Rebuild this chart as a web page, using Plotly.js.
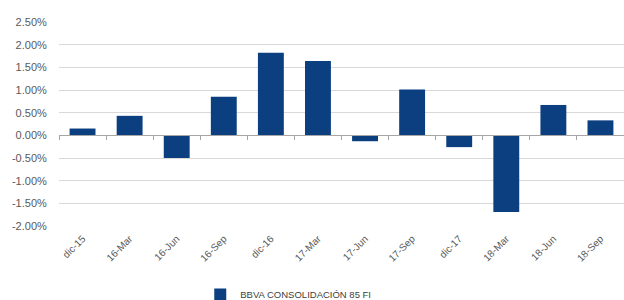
<!DOCTYPE html>
<html>
<head>
<meta charset="utf-8">
<script src="https://cdn.plot.ly/plotly-3.0.1.min.js"></script>
<style>html,body{margin:0;padding:0;background:#fff;}#chart{width:624px;height:300px;}</style>
</head>
<body>
<div id="chart"></div>
<script>
const categories = ["dic-15","16-Mar","16-Jun","16-Sep","dic-16","17-Mar","17-Jun","17-Sep","dic-17","18-Mar","18-Jun","18-Sep"];
const seriesName = "BBVA CONSOLIDACIÓN 85 FI";
const returns = [0.0015, 0.0043, -0.0050, 0.0085, 0.0182, 0.0164, -0.0013, 0.0101, -0.0026, -0.0169, 0.0067, 0.0033];
const yTickVals = [-0.02,-0.015,-0.01,-0.005,0,0.005,0.01,0.015,0.02,0.025];
const yTickText = ["-2.00%","-1.50%","-1.00%","-0.50%","0.00%","0.50%","1.00%","1.50%","2.00%","2.50%"];

const textColor = "#595959";
const font = {family: "Liberation Sans, Arial, sans-serif", size: 10, color: textColor};

const traces = [
  {
    type: "bar", x: categories, y: returns, name: seriesName,
    marker: {color: "#0B3F80"}, showlegend: true, hoverinfo: "x+y"
  },
  {
    type: "scatter", mode: "lines", x: categories, y: returns, xaxis: "x2",
    line: {width: 0, color: "rgba(0,0,0,0)"}, opacity: 0, showlegend: false, hoverinfo: "skip"
  }
];

const layout = {
  width: 624, height: 300,
  margin: {l: 59, r: 0, t: 22, b: 74, pad: 0, autoexpand: false},
  paper_bgcolor: "#ffffff", plot_bgcolor: "#ffffff",
  font: font,
  bargap: 0.45,
  showlegend: true,
  legend: {
    orientation: "h", x: 0.25, xanchor: "left", y: -0.336, yanchor: "middle",
    font: {family: font.family, size: 9.5, color: "#404040"}, itemwidth: 30
  },
  xaxis: {
    type: "category", categoryarray: categories, categoryorder: "array",
    showline: false, showgrid: false, zeroline: false, automargin: false,
    ticks: "outside", ticklen: 2, tickcolor: "rgba(0,0,0,0)",
    tickangle: -45, tickfont: {family: font.family, size: 10, color: textColor},
    range: [-0.5, 11.5], fixedrange: true
  },
  xaxis2: {
    type: "category", categoryarray: categories, categoryorder: "array",
    overlaying: "x", anchor: "free", position: 0.02/0.045, side: "bottom",
    showline: true, linecolor: "#A6A6A6", linewidth: 1,
    ticks: "outside", tickson: "boundaries", ticklen: 4, tickcolor: "#A6A6A6",
    showticklabels: false, showgrid: false, zeroline: false,
    range: [-0.5, 11.5], fixedrange: true
  },
  yaxis: {
    range: [-0.02, 0.025], tickvals: yTickVals, ticktext: yTickText,
    showgrid: true, gridcolor: "#D9D9D9", gridwidth: 1,
    zeroline: false, showline: false, automargin: false,
    ticks: "outside", ticklen: 9, tickcolor: "rgba(0,0,0,0)",
    tickfont: {family: font.family, size: 11, color: textColor},
    fixedrange: true
  }
};

Plotly.newPlot("chart", traces, layout, {displayModeBar: false, staticPlot: true});
</script>
</body>
</html>
